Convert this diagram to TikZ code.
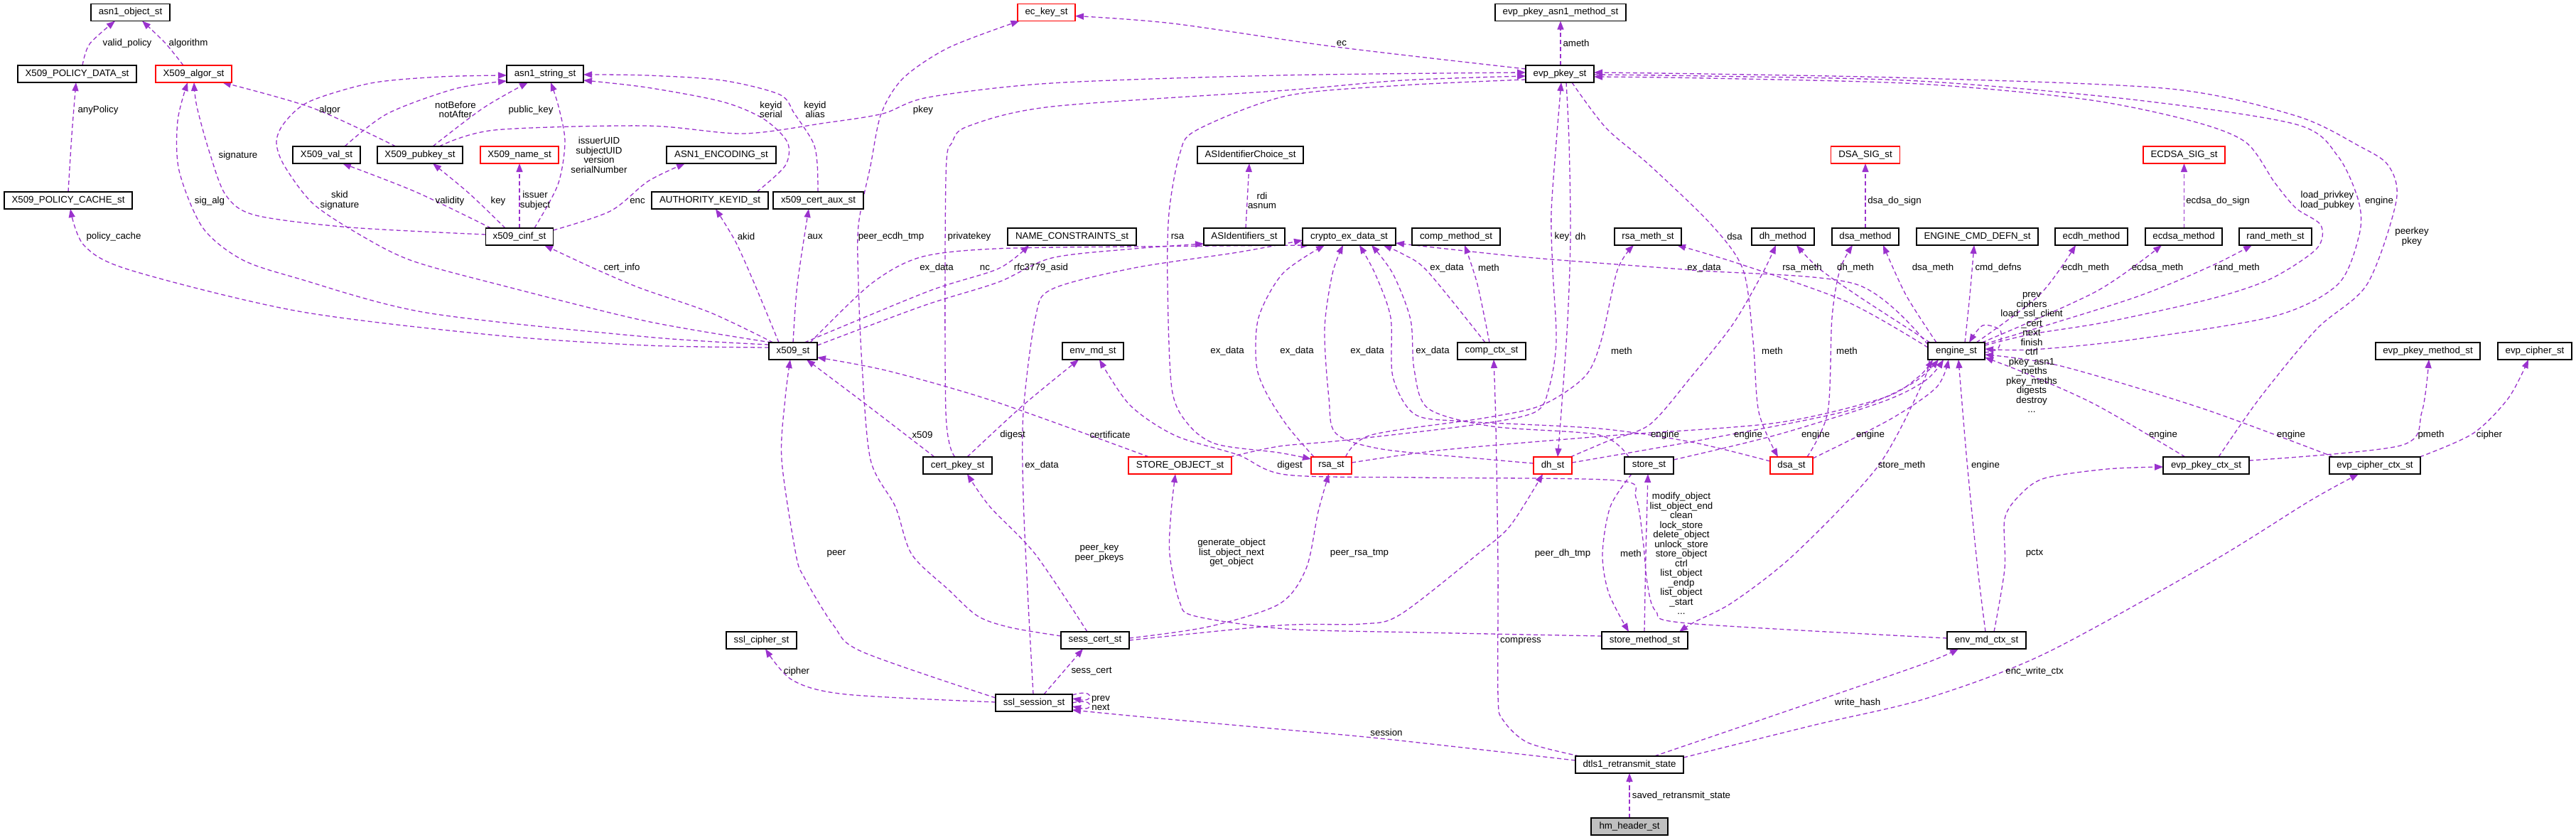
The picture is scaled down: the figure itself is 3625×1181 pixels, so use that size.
\documentclass[tikz,border=0pt]{standalone}
\usepackage{fontspec}
\setmainfont{Liberation Sans}
\usetikzlibrary{arrows.meta,calc,backgrounds}
\definecolor{ecol}{HTML}{9A32CD}
\newcommand\edg[6]{%
  \coordinate (#1s) at ($(#2.center)+(#3)$);%
  \coordinate (#1t) at ($(#5.center)+(#6)$);%
  \draw[e] plot[smooth] coordinates {(#1s) #4 (#1t)};}
\newcommand\lbl[3]{\node[lab] (#1) at (#2) {#3};}
\begin{document}
\begin{tikzpicture}[x=1pt,y=-1pt,
  every node/.style={font=\fontsize{13.3}{13.5}\selectfont},
  box/.style={draw=black,line width=1.3pt,minimum height=24pt,inner sep=1pt,fill=white},
  redbox/.style={box,draw=red},
  lab/.style={align=center,inner sep=0pt},
  e/.style={draw=ecol,line width=1.3pt,dash pattern=on 6pt off 4pt,-{Triangle[length=12pt,width=9pt]}}]
\useasboundingbox (0,0) rectangle (3625,1181);
% ---------------- nodes
\node[box,minimum width=111pt] (asn1obj) at (183.5,17.5) {asn1\_object\_st};
\node[box,minimum width=167pt] (poldata) at (108.5,104) {X509\_POLICY\_DATA\_st};
\node[redbox,minimum width=107pt] (algor) at (272.5,104) {X509\_algor\_st};
\node[box,minimum width=108pt] (asn1str) at (767,104) {asn1\_string\_st};
\node[box,minimum width=95pt] (val) at (459.5,218) {X509\_val\_st};
\node[box,minimum width=120pt] (pubkey) at (591,218) {X509\_pubkey\_st};
\node[redbox,minimum width=110pt] (name) at (731,218) {X509\_name\_st};
\node[box,minimum width=180pt] (polcache) at (96,282) {X509\_POLICY\_CACHE\_st};
\node[box,minimum width=95pt] (cinf) at (731,333) {x509\_cinf\_st};
\node[redbox,minimum width=81pt] (eckey) at (1472.5,17.5) {ec\_key\_st};
\node[box,minimum width=154pt] (asn1enc) at (1015,218) {ASN1\_ENCODING\_st};
\node[box,minimum width=164pt] (akid) at (999,282) {AUTHORITY\_KEYID\_st};
\node[box,minimum width=127pt] (certaux) at (1151.5,282) {x509\_cert\_aux\_st};
\node[box,minimum width=181pt] (namecons) at (1508.5,333) {NAME\_CONSTRAINTS\_st};
\node[box,minimum width=114pt] (asids) at (1751,333) {ASIdentifiers\_st};
\node[box,minimum width=149pt] (asidchoice) at (1759.5,218) {ASIdentifierChoice\_st};
\node[box,minimum width=184pt] (pkeyasn1) at (2196,17.5) {evp\_pkey\_asn1\_method\_st};
\node[box,minimum width=96pt] (pkey) at (2195,104) {evp\_pkey\_st};
\node[redbox,minimum width=97pt] (dsasig) at (2625,218) {DSA\_SIG\_st};
\node[box,minimum width=131pt] (crypto) at (1898.5,333) {crypto\_ex\_data\_st};
\node[box,minimum width=124pt] (compmeth) at (2049,333) {comp\_method\_st};
\node[box,minimum width=94pt] (rsameth) at (2319,333) {rsa\_meth\_st};
\node[box,minimum width=88pt] (dhmeth) at (2509,333) {dh\_method};
\node[box,minimum width=94pt] (dsameth) at (2625,333) {dsa\_method};
\node[redbox,minimum width=115pt] (ecdsasig) at (3073.5,218) {ECDSA\_SIG\_st};
\node[box,minimum width=171pt] (enginecmd) at (2782.5,333) {ENGINE\_CMD\_DEFN\_st};
\node[box,minimum width=102pt] (ecdhmeth) at (2943,333) {ecdh\_method};
\node[box,minimum width=108pt] (ecdsameth) at (3073,333) {ecdsa\_method};
\node[box,minimum width=102pt] (randmeth) at (3202,333) {rand\_meth\_st};
\node[box,minimum width=68pt] (x509) at (1116,494) {x509\_st};
\node[box,minimum width=86pt] (envmd) at (1538,494) {env\_md\_st};
\node[box,minimum width=97pt] (certpkey) at (1347.5,655) {cert\_pkey\_st};
\node[redbox,minimum width=145pt] (storeobj) at (1660.5,655) {STORE\_OBJECT\_st};
\node[box,minimum width=96pt] (compctx) at (2099,494) {comp\_ctx\_st};
\node[redbox,minimum width=57pt] (rsa) at (1873.5,655) {rsa\_st};
\node[redbox,minimum width=54pt] (dh) at (2185,655) {dh\_st};
\node[box,minimum width=69pt] (store) at (2320.5,655) {store\_st};
\node[redbox,minimum width=60pt] (dsa) at (2521,655) {dsa\_st};
\node[box,minimum width=80pt] (engine) at (2753,494) {engine\_st};
\node[box,minimum width=147pt] (pkeymeth) at (3416.5,494) {evp\_pkey\_method\_st};
\node[box,minimum width=104pt] (cipher) at (3567,494) {evp\_cipher\_st};
\node[box,minimum width=121pt] (pkeyctx) at (3104.5,655) {evp\_pkey\_ctx\_st};
\node[box,minimum width=128pt] (cipherctx) at (3342,655) {evp\_cipher\_ctx\_st};
\node[box,minimum width=99pt] (sslcipher) at (1071.5,901) {ssl\_cipher\_st};
\node[box,minimum width=96pt] (sesscert) at (1541,901) {sess\_cert\_st};
\node[box,minimum width=108pt] (sslsess) at (1455,989) {ssl\_session\_st};
\node[box,minimum width=121pt] (storemeth) at (2314.5,901) {store\_method\_st};
\node[box,minimum width=152pt] (dtls) at (2293,1076) {dtls1\_retransmit\_state};
\node[box,minimum width=108pt,fill=gray!50] (hm) at (2293,1163) {hm\_header\_st};
\node[box,minimum width=111pt] (mdctx) at (2795.5,901) {env\_md\_ctx\_st};
% ---------------- edges
\begin{pgfonlayer}{background}
\fill[white] (0,0) rectangle (3625,1181);
\edg{q1}{poldata}{7.5,-12}{(126,62)}{asn1obj}{-21.5,12}
\edg{q2}{algor}{-14.5,-12}{(232,60)}{asn1obj}{16.5,12}
\edg{q3}{polcache}{0,-12}{(101,190)}{poldata}{-1.5,12}
\edg{q4}{x509}{-34,-5}{(910,486) (700,472) (420,438) (183,380) (118,345)}{polcache}{3,12}
\edg{q5}{pubkey}{-34,-12}{(440,152)}{algor}{40.5,12}
\edg{q6}{cinf}{-47.5,-3}{(493,320) (360,303) (318,275) (295,215) (277,150)}{algor}{0.5,12}
\edg{q7}{x509}{-34,-9}{(910,474) (600,440) (420,392) (340,365) (285,320) (252,240) (250,170)}{algor}{-8.5,12}
\edg{q8}{x509}{-30,-12}{(910,452) (700,400) (580,367) (511,333) (441,287) (400,233) (389,200) (400,173) (435,143) (522,117) (620,108)}{asn1str}{-54,2}
\edg{q9}{val}{25.5,-12}{(545,160) (640,125)}{asn1str}{-54,10}
\edg{q10}{pubkey}{18,-12}{(680,152)}{asn1str}{-24,12}
\edg{q11}{cinf}{21,-12}{(785,260) (795,200) (786,150)}{asn1str}{8,12}
\edg{q12}{akid}{66,-12}{(1105,233) (1108,200) (1074,167) (1016,143) (910,123)}{asn1str}{54,9}
\edg{q13}{certaux}{-0.5,-12}{(1150,230) (1144,200) (1118,160) (1097,133) (1016,113) (910,106)}{asn1str}{54,1}
\edg{q14}{cinf}{-40,-12}{(585,270)}{val}{22.5,12}
\edg{q15}{cinf}{-20,-12}{(660,272)}{pubkey}{18,12}
\edg{q16}{cinf}{0,-12}{}{name}{0,12}
\edg{q17}{cinf}{47.5,-9}{(859,297) (912,255)}{asn1enc}{-51,12}
\edg{q18}{x509}{-28,-12}{(1000,440) (900,405) (830,375)}{cinf}{35,12}
\edg{q19}{x509}{-20,-12}{(1062,400) (1035,340)}{akid}{8,12}
\edg{q20}{x509}{0,-12}{(1122,400)}{certaux}{-13.5,12}
\edg{q21}{x509}{16,-12}{(1306,410) (1405,378)}{namecons}{-60.5,12}
\edg{q22}{x509}{24,-12}{(1225,400) (1295,362) (1400,350) (1600,347)}{crypto}{-56,12}
\edg{q23}{x509}{34,-8}{(1300,430) (1405,397) (1480,363) (1596,350)}{asids}{-57,10}
\edg{q24}{asids}{2,-12}{}{asidchoice}{-1.5,12}
\edg{q25}{pubkey}{27,-12}{(696,183) (910,177) (1045,188) (1161,173) (1242,160) (1306,137) (1480,117) (1800,106)}{pkey}{-48,-2}
\edg{q26}{certpkey}{-3.5,-12}{(1331,580) (1331,250) (1340,200) (1364,177) (1480,150) (1810,127) (1974,113)}{pkey}{-48,3}
\edg{q27}{pkey}{-48,8}{(1974,120) (1810,135) (1684,183) (1660,217) (1645,300) (1643,400) (1649,547) (1672,597) (1712,625) (1800,637)}{rsa}{-28.5,-9}
\edg{q28}{sesscert}{-48,-6}{(1422,883) (1376,867) (1335,830) (1283,780) (1260,713) (1225,647) (1213,513) (1208,400) (1208,317) (1225,233) (1240,160) (1271,110) (1335,67)}{eckey}{-38,12}
\edg{q29}{pkey}{-48,-7}{(1880,66) (1650,33)}{eckey}{40.5,5}
\edg{q30}{pkey}{1,-12}{}{pkeyasn1}{0,12}
\edg{q31}{pkeyctx}{17.5,-12}{(3180,560) (3260,463) (3331,400) (3372,283) (3361,233) (3319,205) (3231,163) (3054,125) (2700,110) (2400,104)}{pkey}{48,-2}
\edg{q32}{engine}{40,-8}{(2860,470) (2965,453) (3113,420) (3196,392) (3260,350) (3266,317) (3231,293) (3201,257) (3160,200) (3083,170) (2936,140) (2700,118) (2400,110)}{pkey}{48,4}
\edg{q33}{pkey}{48,1}{(2400,107) (2700,114) (3000,140) (3231,175) (3290,220) (3319,283) (3320,330) (3290,400) (3200,445) (3000,478) (2860,492)}{engine}{40,-3}
\edg{q34}{storeobj}{70,-12}{(1800,628) (1887,620) (2073,598) (2160,580) (2180,545) (2190,480) (2185,380) (2183,300) (2190,200)}{pkey}{2,12}
\edg{q35}{pkey}{9,12}{(2208,200) (2210,330) (2206,450) (2197,580)}{dh}{7,-12}
\edg{q36}{pkey}{17,12}{(2260,180) (2322,233) (2409,317) (2453,380) (2467,480) (2475,580)}{dsa}{-19,-12}
\edg{q37}{dsameth}{0,-12}{}{dsasig}{0,12}
\edg{q38}{ecdsameth}{0.5,-12}{}{ecdsasig}{0,12}
\edg{q39}{compctx}{-9,-12}{(2009,382) (1975,358)}{crypto}{48,12}
\edg{q40}{rsa}{-24.5,-12}{(1812,600) (1782,553) (1768,513) (1771,447) (1805,385)}{crypto}{-34.5,12}
\edg{q41}{dh}{-27,-3}{(2090,646) (1945,632) (1880,610) (1870,560) (1864,463) (1875,385)}{crypto}{-8.5,12}
\edg{q42}{dsa}{-30,-6}{(2380,622) (2250,603) (2061,593) (1991,583) (1960,530) (1957,447) (1935,385)}{crypto}{14.5,12}
\edg{q43}{store}{-28.5,-12}{(2250,612) (2100,600) (2010,575) (1990,520) (1985,450) (1960,385)}{crypto}{31.5,12}
\edg{q44}{sslsess}{-1,-12}{(1447,850) (1440,700) (1440,580) (1457,447) (1480,407) (1596,377) (1742,355)}{crypto}{-65.5,5}
\edg{q45}{engine}{-40,-9}{(2612,400) (2380,380) (2148,362)}{crypto}{65.5,9}
\edg{q46}{compctx}{-3,-12}{(2079,400)}{compmeth}{12,12}
\edg{q47}{rsa}{20,-12}{(1930,612) (2090,588) (2170,570) (2230,530) (2253,480) (2276,380)}{rsameth}{-20,12}
\edg{q48}{dh}{25,-12}{(2264,620) (2322,597) (2380,530) (2438,457) (2480,385)}{dhmeth}{-10,12}
\edg{q49}{dsa}{22,-12}{(2572,580) (2578,447) (2589,380)}{dsameth}{-18,12}
\edg{q50}{rsa}{28.5,-4}{(2032,633) (2266,613) (2500,595) (2650,560) (2700,530)}{engine}{-33,12}
\edg{q51}{dh}{27,-4}{(2400,618) (2600,578) (2690,540)}{engine}{-25,12}
\edg{q52}{store}{34.5,-8}{(2500,612) (2650,565) (2710,535)}{engine}{-18,12}
\edg{q53}{dsa}{30,-10}{(2660,590) (2725,545)}{engine}{-11,12}
\edg{q54}{engine}{-38,12}{(2705,540) (2642,657) (2525,780) (2439,847) (2385,875)}{storemeth}{48.5,-12}
\edg{q55}{store}{-24.5,12}{(2266,713) (2255,780) (2264,835)}{storemeth}{-22.5,-12}
\edg{q56}{storemeth}{-0.5,-12}{(2316,780)}{store}{-1.5,12}
\edg{q57}{storemeth}{-60.5,-6}{(2000,890) (1810,885) (1682,867) (1660,847) (1646,780) (1648,720)}{storeobj}{-6.5,12}
\edg{q58}{mdctx}{-55.5,-3}{(2375,877) (2330,860) (2318,820) (2312,760) (2302,700) (2275,676) (2000,672) (1810,668) (1742,640) (1654,613) (1590,570)}{envmd}{9,12}
\edg{q59}{dtls}{-70,-12}{(2150,1045) (2115,1013) (2108,980) (2108,800) (2105,600)}{compctx}{3,12}
\edg{q60}{dtls}{-76,-6}{(1951,1040) (1800,1026) (1600,1008)}{sslsess}{54,10}
\edg{q61}{dtls}{35,-12}{(2554,987) (2710,933)}{mdctx}{-39.5,12}
\edg{q62}{dtls}{76,-10}{(2554,1020) (2710,983) (2877,920) (3113,790) (3250,705)}{cipherctx}{-23,12}
\edg{q63}{hm}{0,-12}{}{dtls}{0,12}
\edg{q64}{mdctx}{10.5,-12}{(2821,800) (2821,730) (2842,697) (2877,673) (2965,660)}{pkeyctx}{-60.5,2}
\edg{q65}{mdctx}{-1.5,-12}{(2783,800) (2768,650)}{engine}{3,12}
\edg{q66}{pkeyctx}{-29.5,-12}{(2950,570) (2850,525)}{engine}{40,9}
\edg{q67}{cipherctx}{-58,-12}{(3100,575) (2900,515)}{engine}{40,5}
\edg{q68}{pkeyctx}{60.5,-7}{(3378,627) (3408,580)}{pkeymeth}{1.5,12}
\edg{q69}{cipherctx}{63,-12}{(3480,610) (3530,560)}{cipher}{-9,12}
\edg{q70}{engine}{40,2}{(2812,490) (2815,465) (2790,458)}{engine}{18,-12}
\edg{q71}{engine}{-40,-5}{(2600,425) (2450,372)}{rsameth}{41,12}
\edg{q72}{engine}{-37,-12}{(2620,420) (2560,378)}{dhmeth}{19,12}
\edg{q73}{engine}{-28,-12}{(2682,415)}{dsameth}{25,12}
\edg{q74}{engine}{12,-12}{(2772,415)}{enginecmd}{-4.5,12}
\edg{q75}{engine}{28,-12}{(2870,415)}{ecdhmeth}{-22,12}
\edg{q76}{engine}{36,-12}{(2950,410)}{ecdsameth}{-31,12}
\edg{q77}{engine}{40,-10}{(3000,420) (3110,375)}{randmeth}{-33,12}
\edg{q78}{sslsess}{-54,-7}{(1213,917) (1173,880) (1132,813) (1120,780) (1100,647) (1105,560)}{x509}{-4,12}
\edg{q79}{certpkey}{-32.5,-12}{(1220,570)}{x509}{19,12}
\edg{q80}{certpkey}{13.5,-12}{(1440,570)}{envmd}{-20,12}
\edg{q81}{storeobj}{-43.5,-12}{(1400,565) (1250,522)}{x509}{34,9}
\edg{q82}{sesscert}{-11,-12}{(1457,780) (1393,713)}{certpkey}{13.5,12}
\edg{q83}{sslsess}{-54,-1}{(1190,977) (1115,957)}{sslcipher}{5.5,12}
\edg{q84}{sslsess}{14,-12}{}{sesscert}{-17,12}
\coordinate (q85s) at ($(sslsess.center)+(54,-11)$);
\coordinate (q85t) at ($(sslsess.center)+(54,-6)$);
\draw[e] (q85s) .. controls (1540,968) and (1540,988) .. (q85t);
\coordinate (q86s) at ($(sslsess.center)+(54,0)$);
\coordinate (q86t) at ($(sslsess.center)+(54,5)$);
\draw[e] (q86s) .. controls (1540,981) and (1540,1001) .. (q86t);
\edg{q87}{sesscert}{48,-3}{(1700,882) (1800,850) (1838,800) (1855,720)}{rsa}{-3.5,12}
\edg{q88}{sesscert}{48,0}{(1800,880) (1916,878) (1970,865) (2079,780) (2125,740)}{dh}{-14,12}
\end{pgfonlayer}
% ---------------- labels
\lbl{l1}{179,61}{valid\_policy}
\lbl{l2}{265,61}{algorithm}
\lbl{l3}{138,155}{anyPolicy}
\lbl{l4}{160,333}{policy\_cache}
\lbl{l5}{464,155}{algor}
\lbl{l6}{335,219}{signature}
\lbl{l7}{295,283}{sig\_alg}
\lbl{l8}{478,282}{skid\\signature}
\lbl{l9}{641,154}{notBefore\\notAfter}
\lbl{l10}{747,155}{public\_key}
\lbl{l11}{843,218}{issuerUID\\subjectUID\\version\\serialNumber}
\lbl{l12}{1085,154}{keyid\\serial}
\lbl{l13}{1147,154}{keyid\\alias}
\lbl{l14}{633,283}{validity}
\lbl{l15}{701,283}{key}
\lbl{l16}{753,282}{issuer\\subject}
\lbl{l17}{897,283}{enc}
\lbl{l18}{875,377}{cert\_info}
\lbl{l19}{1050,333}{akid}
\lbl{l20}{1147,333}{aux}
\lbl{l21}{1386,377}{nc}
\lbl{l22}{1318,377}{ex\_data}
\lbl{l23}{1465,377}{rfc3779\_asid}
\lbl{l24}{1776,282}{rdi\\asnum}
\lbl{l25}{1299,155}{pkey}
\lbl{l26}{1364,333}{privatekey}
\lbl{l27}{1657,333}{rsa}
\lbl{l28}{1254,333}{peer\_ecdh\_tmp}
\lbl{l29}{1888,61}{ec}
\lbl{l30}{2218,61}{ameth}
\lbl{l31}{3394,333}{peerkey\\pkey}
\lbl{l32}{3275,282}{load\_privkey\\load\_pubkey}
\lbl{l33}{3348,283}{engine}
\lbl{l34}{2198,333}{key}
\lbl{l35}{2224,333}{dh}
\lbl{l36}{2441,333}{dsa}
\lbl{l37}{2666,283}{dsa\_do\_sign}
\lbl{l38}{3121,283}{ecdsa\_do\_sign}
\lbl{l39}{2036,377}{ex\_data}
\lbl{l40}{1727,494}{ex\_data}
\lbl{l41}{1825,494}{ex\_data}
\lbl{l42}{1924,494}{ex\_data}
\lbl{l43}{2016,494}{ex\_data}
\lbl{l44}{1466,655}{ex\_data}
\lbl{l45}{2398,377}{ex\_data}
\lbl{l46}{2095,377}{meth}
\lbl{l47}{2282,494}{meth}
\lbl{l48}{2494,494}{meth}
\lbl{l49}{2599,494}{meth}
\lbl{l50}{2343,612}{engine}
\lbl{l51}{2460,612}{engine}
\lbl{l52}{2555,612}{engine}
\lbl{l53}{2632,612}{engine}
\lbl{l54}{2676,655}{store\_meth}
\lbl{l55}{2295,779}{meth}
\lbl{l56}{2366,779}{modify\_object\\list\_object\_end\\clean\\lock\_store\\delete\_object\\unlock\_store\\store\_object\\ctrl\\list\_object\\\_endp\\list\_object\\\_start\\...}
\lbl{l57}{1733,778}{generate\_object\\list\_object\_next\\get\_object}
\lbl{l58}{1815,655}{digest}
\lbl{l59}{2140,902}{compress}
\lbl{l60}{1951,1031}{session}
\lbl{l61}{2614,989}{write\_hash}
\lbl{l62}{2863,945}{enc\_write\_ctx}
\lbl{l63}{2366,1120}{saved\_retransmit\_state}
\lbl{l64}{2863,779}{pctx}
\lbl{l65}{2794,655}{engine}
\lbl{l66}{3044,612}{engine}
\lbl{l67}{3224,612}{engine}
\lbl{l68}{3421,612}{pmeth}
\lbl{l69}{3503,612}{cipher}
\lbl{l70}{2859,496}{prev\\ciphers\\load\_ssl\_client\\\_cert\\next\\finish\\ctrl\\pkey\_asn1\\\_meths\\pkey\_meths\\digests\\destroy\\...}
\lbl{l71}{2536,377}{rsa\_meth}
\lbl{l72}{2611,377}{dh\_meth}
\lbl{l73}{2720,377}{dsa\_meth}
\lbl{l74}{2812,377}{cmd\_defns}
\lbl{l75}{2935,377}{ecdh\_meth}
\lbl{l76}{3036,377}{ecdsa\_meth}
\lbl{l77}{3148,377}{rand\_meth}
\lbl{l78}{1177,779}{peer}
\lbl{l79}{1298,612}{x509}
\lbl{l80}{1425,612}{digest}
\lbl{l81}{1562,612}{certificate}
\lbl{l82}{1547,778}{peer\_key\\peer\_pkeys}
\lbl{l83}{1121,945}{cipher}
\lbl{l84}{1536,945}{sess\_cert}
\lbl{l85}{1549,989.5}{prev\\next}
\lbl{l87}{1913,779}{peer\_rsa\_tmp}
\lbl{l88}{2199,779}{peer\_dh\_tmp}
\end{tikzpicture}
\end{document}
